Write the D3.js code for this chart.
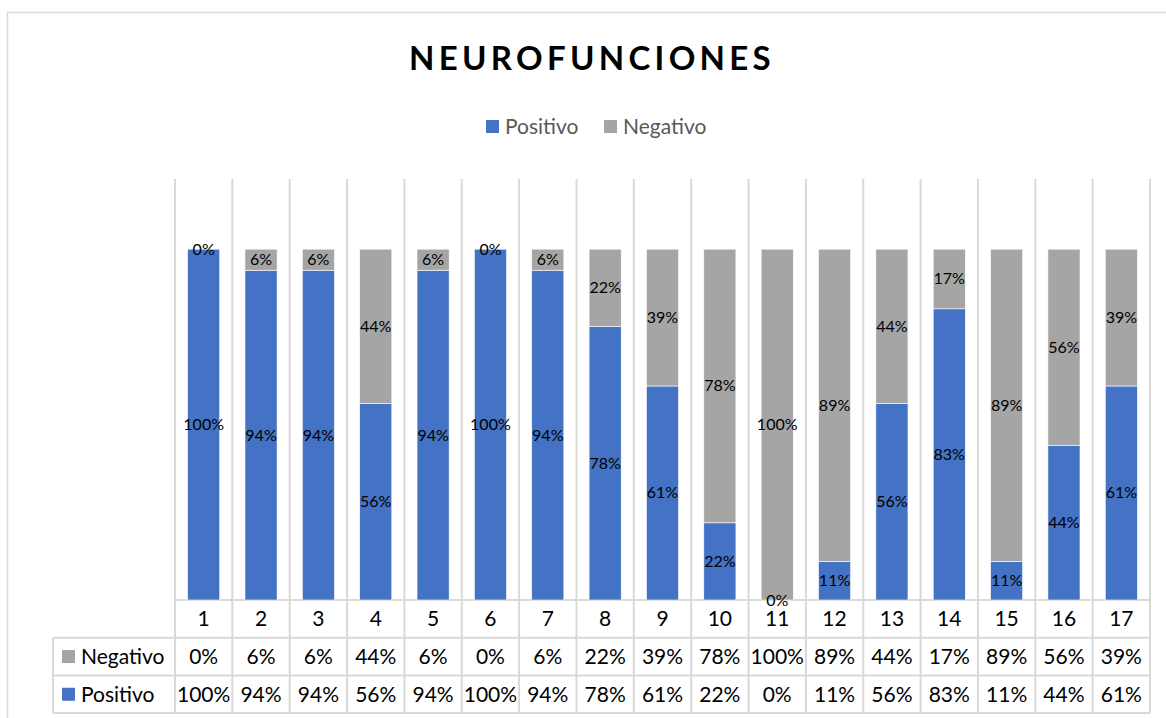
<!DOCTYPE html>
<html>
<head>
<meta charset="utf-8">
<script src="https://cdn.jsdelivr.net/npm/d3@7"></script>
<style>
  body { margin: 0; background: #fff; }
  svg { display: block; font-family: Lato, 'Open Sans', sans-serif; }
</style>
</head>
<body>
<svg id="chart"></svg>
<script>
const categories = ['1', '2', '3', '4', '5', '6', '7', '8', '9', '10', '11', '12', '13', '14', '15', '16', '17']
const positivo = [1.00, 0.94, 0.94, 0.56, 0.94, 1.00, 0.94, 0.78, 0.61, 0.22, 0.00, 0.11, 0.56, 0.83, 0.11, 0.44, 0.61]
const negativo = [0.00, 0.06, 0.06, 0.44, 0.06, 0.00, 0.06, 0.22, 0.39, 0.78, 1.00, 0.89, 0.44, 0.17, 0.89, 0.56, 0.39]
const seriesNames = ['Positivo', 'Negativo']
const colors = { Positivo: '#4472C4', Negativo: '#A5A5A5' }

const width = 1166
const height = 718
const plotLeft = 175
const plotRight = 1150
const plotTop = 179
const plotBottom = 600
const rowH = 37.7
const gridColor = '#D9D9D9'
const tableFont = 21

const data = categories.map((c, i) => ({ cat: c, Positivo: positivo[i], Negativo: negativo[i] }))
const stacked = d3.stack().keys(seriesNames)(data)

const cell = d3.scaleBand().domain(categories).range([plotLeft, plotRight])
const x = d3.scaleBand().domain(categories).range([plotLeft, plotRight])
    .paddingInner(0.44).paddingOuter(0.22)
const y = d3.scaleLinear().domain([0, 1.2]).range([plotBottom, plotTop])
const pct = d3.format('.0%')

const svg = d3.select('#chart')
    .attr('width', width)
    .attr('height', height)
    .attr('viewBox', [0, 0, width, height])

// chart frame
svg.append('path')
    .attr('d', `M7.5,${height} V12.5 H${width}`)
    .attr('fill', 'none')
    .attr('stroke', gridColor)
    .attr('stroke-width', 1.5)

// title
svg.append('text')
    .attr('x', 592)
    .attr('y', 70)
    .attr('text-anchor', 'middle')
    .attr('font-size', 33)
    .attr('font-weight', 700)
    .attr('letter-spacing', 4.3)
    .attr('fill', '#000')
    .text('NEUROFUNCIONES')

// legend
const legendItems = [
  { name: 'Positivo', x: 486 },
  { name: 'Negativo', x: 604 }
]
const lg = svg.append('g')
lg.selectAll('rect').data(legendItems).join('rect')
    .attr('x', d => d.x)
    .attr('y', 120)
    .attr('width', 13)
    .attr('height', 13)
    .attr('fill', d => colors[d.name])
lg.selectAll('text').data(legendItems).join('text')
    .attr('x', d => d.x + 19)
    .attr('y', 134)
    .attr('font-size', tableFont)
    .attr('fill', '#595959')
    .text(d => d.name)

// vertical gridlines (category boundaries) through plot and table
const bounds = categories.map(c => cell(c)).concat([plotRight])
svg.append('g')
  .selectAll('line').data(bounds).join('line')
    .attr('x1', d => d)
    .attr('x2', d => d)
    .attr('y1', plotTop)
    .attr('y2', plotBottom + 3 * rowH)
    .attr('stroke', gridColor)
    .attr('stroke-width', 2)

// table horizontal lines
const tableTop = plotBottom
const hLines = [
  { y: tableTop, x1: plotLeft },
  { y: tableTop + rowH, x1: 53 },
  { y: tableTop + 2 * rowH, x1: 53 },
  { y: tableTop + 3 * rowH, x1: 53 }
]
svg.append('g')
  .selectAll('line').data(hLines).join('line')
    .attr('x1', d => d.x1)
    .attr('x2', plotRight)
    .attr('y1', d => d.y)
    .attr('y2', d => d.y)
    .attr('stroke', gridColor)
    .attr('stroke-width', 2)
svg.append('line')
    .attr('x1', 53).attr('x2', 53)
    .attr('y1', tableTop + rowH).attr('y2', tableTop + 3 * rowH)
    .attr('stroke', gridColor)
    .attr('stroke-width', 2)

// bars
const barG = svg.append('g')
barG.selectAll('g').data(stacked).join('g')
    .attr('fill', d => colors[d.key])
  .selectAll('rect').data(d => d).join('rect')
    .attr('x', d => x(d.data.cat))
    .attr('y', d => y(d[1]))
    .attr('width', x.bandwidth())
    .attr('height', d => y(d[0]) - y(d[1]))
    .attr('stroke', '#fff')
    .attr('stroke-width', 0.6)

// data labels
const labelG = svg.append('g')
labelG.selectAll('g').data(stacked).join('g')
  .selectAll('text').data(d => d.map(v => ({ v, key: d.key }))).join('text')
    .attr('x', d => x(d.v.data.cat) + x.bandwidth() / 2)
    .attr('y', d => y((d.v[0] + d.v[1]) / 2) + 5.5)
    .attr('text-anchor', 'middle')
    .attr('font-size', 16)
    .attr('fill', '#000')
    .text(d => pct(d.v.data[d.key]))

// category labels in table header row
svg.append('g')
  .selectAll('text').data(categories).join('text')
    .attr('x', d => cell(d) + cell.bandwidth() / 2)
    .attr('y', tableTop + rowH / 2 + 7.5)
    .attr('text-anchor', 'middle')
    .attr('font-size', tableFont)
    .attr('fill', '#000')
    .text(d => d)

// table rows: Negativo then Positivo
const tableRows = [
  { name: 'Negativo', values: negativo },
  { name: 'Positivo', values: positivo }
]
tableRows.forEach((row, r) => {
  const cy = tableTop + rowH * (r + 1) + rowH / 2
  svg.append('rect')
      .attr('x', 62)
      .attr('y', cy - 6.5)
      .attr('width', 13)
      .attr('height', 13)
      .attr('fill', colors[row.name])
  svg.append('text')
      .attr('x', 81)
      .attr('y', cy + 7.5)
      .attr('font-size', tableFont)
      .attr('fill', '#000')
      .text(row.name)
  svg.append('g')
    .selectAll('text').data(row.values).join('text')
      .attr('x', (d, i) => cell(categories[i]) + cell.bandwidth() / 2)
      .attr('y', cy + 7.5)
      .attr('text-anchor', 'middle')
      .attr('font-size', tableFont)
      .attr('fill', '#000')
      .text(d => pct(d))
})
</script>
</body>
</html>
